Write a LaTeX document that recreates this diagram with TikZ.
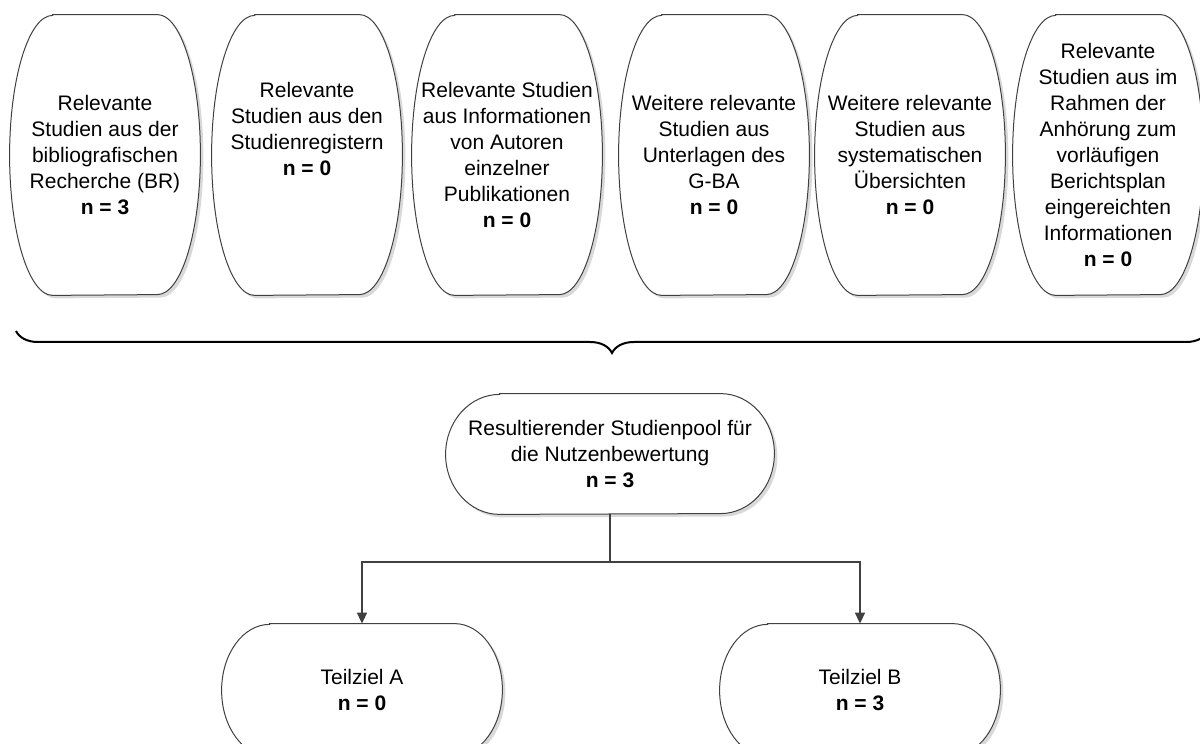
\documentclass[tikz,border=0pt]{standalone}
\usepackage{fontspec}
\setmainfont{Liberation Sans}
\usetikzlibrary{calc,arrows.meta,decorations.pathreplacing}
\pgfdeclarelayer{background}
\pgfsetlayers{background,main}

% outline of a rounded box with elliptic ends: [style]{node}{x radius}{y radius}
\newcommand{\pillbox}[4][]{%
  \path[#1] ($(#2.north west)+(#3,0)$) -- ($(#2.north east)+(-#3,0)$)
    arc[start angle=90,end angle=-90,x radius=#3,y radius=#4]
    -- ($(#2.south west)+(#3,0)$)
    arc[start angle=270,end angle=90,x radius=#3,y radius=#4] -- cycle;}

\tikzset{
  txt/.style={align=center,inner sep=1pt,font=\fontsize{10.5}{13}\selectfont},
  source/.style={txt,minimum width=95pt,minimum height=140pt},
  result/.style={txt,minimum width=164pt,minimum height=60pt},
  goal/.style={txt,minimum width=140pt,minimum height=66pt},
  outline/.style={draw=black!75,line width=0.5pt,fill=white},
  shade/.style={fill=black!15},
  conn/.style={draw=black!75,line width=0.8pt},
}

\begin{document}
\begin{tikzpicture}[x=0.5pt,y=0.5pt]
	\useasboundingbox (0,0) rectangle (1200,744);
	\node[source] (br)  at (105,589)  {Relevante\\Studien aus der\\bibliografischen\\Recherche (BR)\\\textbf{n = 3}};
	\node[source] (reg) at (307,589)  {Relevante\\Studien aus den\\Studienregistern\\\textbf{n = 0}\\~\\~};
	\node[source] (aut) at (507,589)  {Relevante Studien\\aus Informationen\\von Autoren\\einzelner\\Publikationen\\\textbf{n = 0}};
	\node[source] (gba) at (714,589)  {Weitere relevante\\Studien aus\\Unterlagen des\\G-BA\\\textbf{n = 0}};
	\node[source] (sys) at (910,589)  {Weitere relevante\\Studien aus\\systematischen\\Übersichten\\\textbf{n = 0}};
	\node[source] (anh) at (1108,589) {Relevante\\Studien aus im\\Rahmen der\\Anhörung zum\\vorläufigen\\Berichtsplan\\eingereichten\\Informationen\\\textbf{n = 0}};
	%
	\node[result] (pool) at (610,290) {Resultierender Studienpool für\\die Nutzenbewertung\\\textbf{n = 3}};
	\node[goal] (tzA) at (362,54) {Teilziel A\\\textbf{n = 0}};
	\node[goal] (tzB) at (860,54) {Teilziel B\\\textbf{n = 3}};
	%
	\begin{pgfonlayer}{background}
		\begin{scope}[transform canvas={xshift=1.5pt,yshift=-1.5pt}]
			\foreach \n in {br,reg,aut,gba,sys,anh} \pillbox[shade]{\n}{21.5pt}{70pt};
			\pillbox[shade]{pool}{27pt}{30pt};
			\pillbox[shade]{tzA}{24pt}{33pt};
			\pillbox[shade]{tzB}{24pt}{33pt};
		\end{scope}
		\foreach \n in {br,reg,aut,gba,sys,anh} \pillbox[outline]{\n}{21.5pt}{70pt};
		\pillbox[outline]{pool}{27pt}{30pt};
		\pillbox[outline]{tzA}{24pt}{33pt};
		\pillbox[outline]{tzB}{24pt}{33pt};
	\end{pgfonlayer}
	%
	\coordinate (braceL) at (16,413);
	\coordinate (braceR) at (1208,413);
	\draw[line width=1pt,decorate,decoration={brace,mirror,amplitude=11pt}] (braceL) -- (braceR);
	%
	\coordinate (split) at (610,182);
	\draw[conn] (pool.south) -- (split);
	\draw[conn,-{Triangle[length=5.5pt,width=5pt]}] (split) -| (tzA.north);
	\draw[conn,-{Triangle[length=5.5pt,width=5pt]}] (split) -| (tzB.north);
\end{tikzpicture}
\end{document}
